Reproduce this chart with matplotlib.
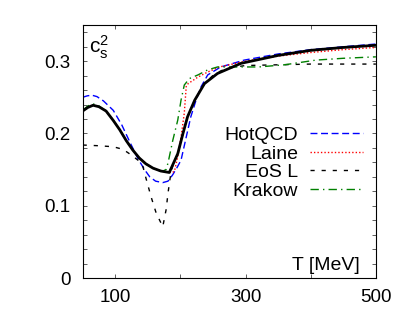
import matplotlib
matplotlib.use("Agg")
import matplotlib.pyplot as plt
from matplotlib.ticker import MultipleLocator, FixedLocator

plt.rcParams["font.family"] = ["Liberation Sans", "DejaVu Sans"]
plt.rcParams["mathtext.fontset"] = "custom"
plt.rcParams["mathtext.rm"] = "Liberation Sans"
plt.rcParams["mathtext.it"] = "Liberation Sans"

# main curve (thick black)
T_main = [50, 58, 66, 75, 86, 97, 107, 117, 127, 137, 147, 158, 170, 183,
          190, 196, 204, 211, 222, 237, 257, 293, 350, 400, 450, 500]
cs2_main = [0.231, 0.236, 0.239, 0.237, 0.231, 0.218, 0.205, 0.190, 0.177,
            0.166, 0.158, 0.152, 0.148, 0.146,
            0.160, 0.172, 0.200, 0.223, 0.246, 0.269, 0.283, 0.297, 0.308,
            0.315, 0.319, 0.322]

T_hotqcd = [50, 57, 64, 72, 82, 97, 110, 122, 135, 145, 153, 162, 173, 181,
            188, 195, 201, 209, 216, 224, 232, 242, 262, 298, 350, 400, 450, 500]
cs2_hotqcd = [0.250, 0.252, 0.253, 0.251, 0.245, 0.232, 0.212, 0.189, 0.165,
              0.150, 0.140, 0.134, 0.132, 0.134, 0.1425, 0.153, 0.163, 0.195,
              0.223, 0.246, 0.265, 0.281, 0.292, 0.3015, 0.310, 0.316, 0.320,
              0.3237]

T_laine = [50, 58, 66, 75, 86, 97, 107, 117, 127, 137, 147, 158, 170, 183,
           188, 191, 196, 201, 206, 209, 212, 227, 242, 260, 300, 350, 400,
           450, 500]
cs2_laine = [0.231, 0.236, 0.239, 0.237, 0.231, 0.218, 0.205, 0.190, 0.177,
             0.166, 0.158, 0.152, 0.148, 0.146, 0.146, 0.148, 0.168, 0.195,
             0.228, 0.265, 0.269, 0.278, 0.285, 0.292, 0.300, 0.307, 0.312,
             0.316, 0.319]

T_eosl = [50, 75, 97, 112, 125, 135, 142.6, 148, 155, 163, 173, 178, 181,
          183.4, 186, 190, 196, 204, 211, 222, 237, 252, 270, 300, 350, 400,
          450, 500]
cs2_eosl = [0.184, 0.183, 0.1816, 0.178, 0.170, 0.163, 0.154, 0.1355, 0.1125,
            0.0895, 0.071, 0.094, 0.117, 0.133, 0.148, 0.160, 0.172, 0.200,
            0.223, 0.246, 0.269, 0.282, 0.290, 0.294, 0.295, 0.296, 0.296,
            0.296]

T_krakow = [50, 58, 66, 75, 86, 97, 107, 117, 127, 137, 147, 158, 166, 173,
            178, 181, 188.5, 196, 201, 206, 214, 227, 242, 257, 280, 320, 360,
            408, 450, 500]
cs2_krakow = [0.232, 0.238, 0.241, 0.238, 0.231, 0.218, 0.205, 0.190, 0.177,
              0.166, 0.158, 0.152, 0.149, 0.148, 0.150, 0.159, 0.191, 0.2185,
              0.246, 0.267, 0.276, 0.281, 0.288, 0.292, 0.292, 0.292, 0.295,
              0.3015, 0.304, 0.306]

fig = plt.figure(figsize=(4.09, 3.19), dpi=100)
ax = fig.add_axes([0.202, 0.1285, 0.717, 0.793])

ax.plot(T_hotqcd, cs2_hotqcd, color="#0000ff", lw=1.0, dashes=(5, 2.6),
        label="HotQCD")
ax.plot(T_laine, cs2_laine, color="#ff0000", lw=1.0, dashes=(1, 1.5),
        label="Laine")
ax.plot(T_eosl, cs2_eosl, color="black", lw=1.0, dashes=(3, 5),
        label="EoS L")
ax.plot(T_krakow, cs2_krakow, color="#008000", lw=1.0, dashes=(6, 3, 1, 3),
        label="Krakow")
ax.plot(T_main, cs2_main, color="black", lw=2.0)

ax.set_xlim(50, 500)
ax.set_ylim(0, 0.35)
ax.xaxis.set_major_locator(FixedLocator([100, 300, 500]))
ax.xaxis.set_minor_locator(FixedLocator([200, 400]))
ax.set_xticklabels(["100", "300", "500"])
ax.yaxis.set_major_locator(FixedLocator([0, 0.1, 0.2, 0.3]))
ax.yaxis.set_minor_locator(MultipleLocator(0.02))
ax.set_yticklabels(["0", "0.1", "0.2", "0.3"])
ax.tick_params(which="both", direction="in", top=True, right=True,
               length=3, width=0.6, labelsize=13.5, color="#444444")
ax.tick_params(axis="x", pad=8)
ax.tick_params(axis="y", pad=8.5)
for s in ax.spines.values():
    s.set_linewidth(0.8)

ax.text(0.022, 0.965, r"$\mathregular{c_s^2}$", transform=ax.transAxes,
        ha="left", va="top", fontsize=15)
ax.text(0.946, 0.03, "T [MeV]", transform=ax.transAxes, ha="right",
        va="baseline", fontsize=14)

ax.legend(loc="center right", bbox_to_anchor=(0.957, 0.4545), frameon=False,
          markerfirst=False, fontsize=14, handlelength=2.75,
          handletextpad=0.6, labelspacing=0.05, borderpad=0, borderaxespad=0)

fig.savefig("out.png", dpi=100)
